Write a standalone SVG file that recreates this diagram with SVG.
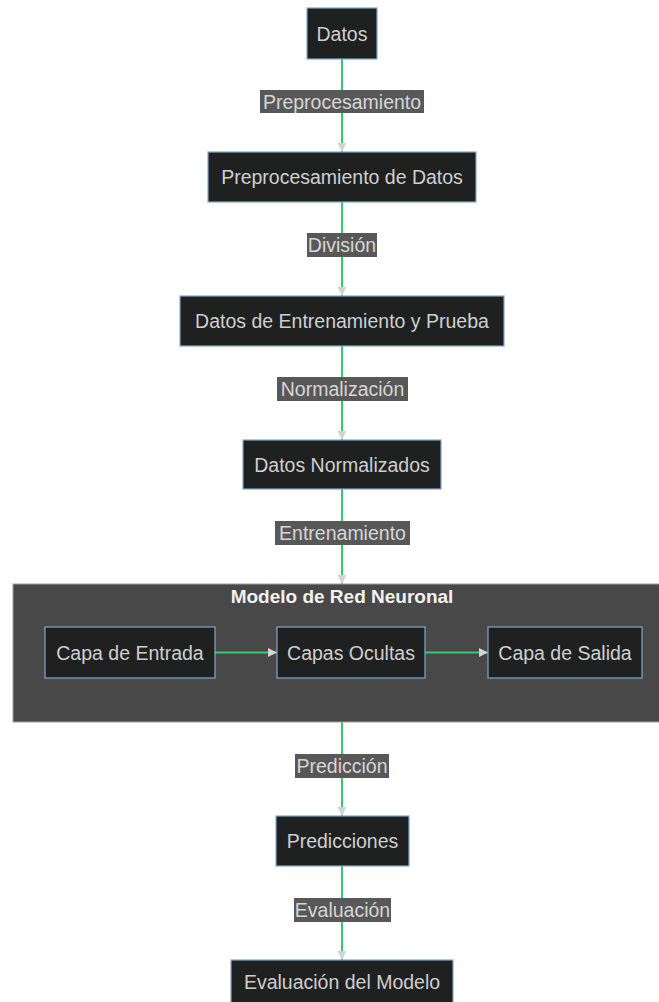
<svg xmlns="http://www.w3.org/2000/svg" width="659" height="1002" viewBox="0 0 659 1002">
<style>
.node rect{fill:#1f2020;stroke:#81a9cf;stroke-width:1.2}
.node text{fill:#cfcfcf;font-family:"Liberation Sans",Arial,sans-serif;font-size:19.5px;text-anchor:middle}
.edge{stroke:#2ecc71;stroke-width:2;fill:none}
.elabel rect{fill:#585858}
.elabel text{fill:#d6d6d6;font-family:"Liberation Sans",Arial,sans-serif;font-size:19.5px;text-anchor:middle}
.cluster rect{fill:#484848;stroke:#a0a0a0;stroke-width:1}
.cluster text{fill:#f2f2f2;font-family:"Liberation Sans",Arial,sans-serif;font-size:19px;text-anchor:middle;font-weight:bold}
</style>
<defs>
<marker id="arr" viewBox="0 0 10 10" refX="10" refY="5" markerWidth="9" markerHeight="9" markerUnits="userSpaceOnUse" orient="auto">
<path d="M0,0 L10,5 L0,10 z" fill="#d3d3d3"/>
</marker>
</defs>
<rect width="659" height="1002" fill="#ffffff"/>
<g id="cluster-modelo" class="cluster">
<rect x="13" y="584" width="652" height="138"/>
<text x="342" y="603">Modelo de Red Neuronal</text>
</g>
<g id="connectors">
<path class="edge" d="M342,59 L342,152" marker-end="url(#arr)"/>
<path class="edge" d="M342,202 L342,296" marker-end="url(#arr)"/>
<path class="edge" d="M342,346 L342,440" marker-end="url(#arr)"/>
<path class="edge" d="M342,489 L342,584" marker-end="url(#arr)"/>
<path class="edge" d="M215,652.5 L277,652.5" marker-end="url(#arr)"/>
<path class="edge" d="M425,652.5 L488,652.5" marker-end="url(#arr)"/>
<path class="edge" d="M342,722 L342,816" marker-end="url(#arr)"/>
<path class="edge" d="M342,866 L342,960" marker-end="url(#arr)"/>
<g class="elabel"><rect x="260" y="90" width="164" height="23"/><text x="342" y="108.5">Preprocesamiento</text></g>
<g class="elabel"><rect x="307" y="233" width="70" height="24"/><text x="342" y="252">División</text></g>
<g class="elabel"><rect x="277" y="377" width="131" height="24"/><text x="342.5" y="396">Normalización</text></g>
<g class="elabel"><rect x="275" y="521" width="135" height="24"/><text x="342.5" y="540">Entrenamiento</text></g>
<g class="elabel"><rect x="295" y="754" width="94" height="24"/><text x="342" y="773">Predicción</text></g>
<g class="elabel"><rect x="294" y="898" width="97" height="24"/><text x="342.5" y="917">Evaluación</text></g>
</g>
<g id="datos" class="node"><rect x="307" y="8" width="70" height="51"/><text x="342" y="40.5">Datos</text></g>
<g id="preproc" class="node"><rect x="208" y="152" width="268" height="50"/><text x="342" y="184">Preprocesamiento de Datos</text></g>
<g id="entrenamiento-prueba" class="node"><rect x="180" y="296" width="324" height="50"/><text x="342" y="328">Datos de Entrenamiento y Prueba</text></g>
<g id="normalizados" class="node"><rect x="243" y="440" width="198" height="49"/><text x="342" y="471.5">Datos Normalizados</text></g>
<g id="capa-entrada" class="node"><rect x="45" y="627" width="170" height="51"/><text x="130" y="659.5">Capa de Entrada</text></g>
<g id="capas-ocultas" class="node"><rect x="277" y="627" width="148" height="51"/><text x="351" y="659.5">Capas Ocultas</text></g>
<g id="capa-salida" class="node"><rect x="488" y="627" width="154" height="51"/><text x="565" y="659.5">Capa de Salida</text></g>
<g id="predicciones" class="node"><rect x="276" y="816" width="133" height="50"/><text x="342.5" y="848">Predicciones</text></g>
<g id="evaluacion-modelo" class="node"><rect x="231" y="960" width="222" height="50"/><text x="342" y="989">Evaluación del Modelo</text></g>
</svg>
